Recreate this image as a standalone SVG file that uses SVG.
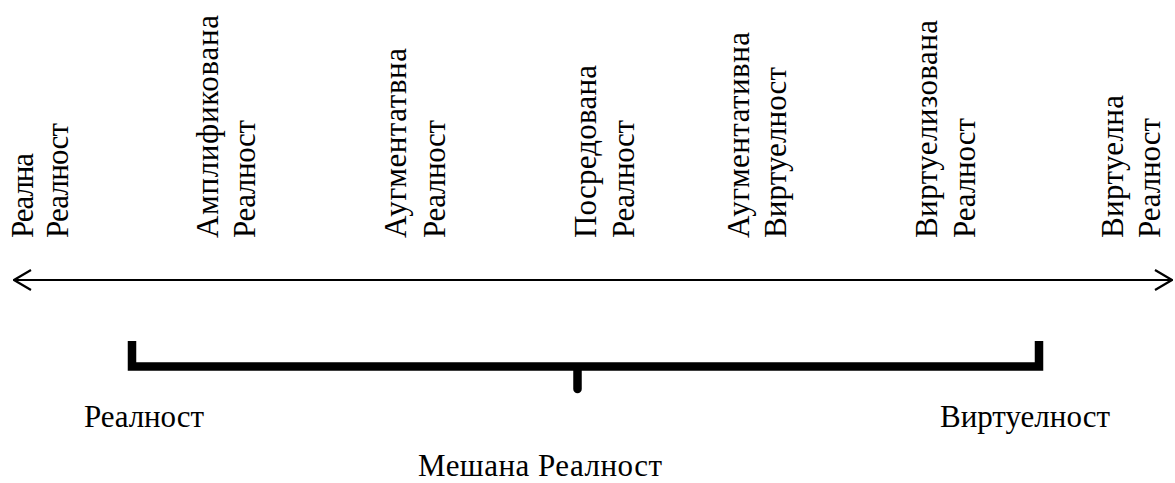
<svg xmlns="http://www.w3.org/2000/svg" width="1175" height="483" viewBox="0 0 1175 483">
<style>
.v{font-size:31px}
.h{font-size:31px}
.ax{stroke:#000;stroke-width:2;fill:none}
.br{stroke:#000;stroke-width:8.5;fill:none}
</style>
<defs>
<marker id="chev" viewBox="0 0 20 24" refX="19" refY="12" markerWidth="20" markerHeight="24" markerUnits="userSpaceOnUse" orient="auto-start-reverse">
<path d="M2,2 L19,12 L2,22" stroke="#000" stroke-width="2.2" fill="none"/>
</marker>
</defs>
<g id="connectors">
<line class="ax" x1="14" y1="280" x2="1172" y2="280" marker-start="url(#chev)" marker-end="url(#chev)"/>
<path class="br" d="M132,341 V366.5 H1039 V341" stroke-linejoin="miter"/>
<line class="br" x1="577.5" y1="368" x2="577.5" y2="389" stroke-linecap="round"/>
</g>
<g font-family="'Liberation Serif', 'DejaVu Serif', serif" fill="#000">
<g id="n1"><text class="v" transform="translate(33,238) rotate(-90)" textLength="85">Реална</text><text class="v" transform="translate(68,238) rotate(-90)" textLength="115">Реалност</text></g>
<g id="n2"><text class="v" transform="translate(218,238) rotate(-90)" textLength="223">Амплификована</text><text class="v" transform="translate(255,238) rotate(-90)" textLength="118">Реалност</text></g>
<g id="n3"><text class="v" transform="translate(406,238) rotate(-90)" textLength="190">Аугментатвна</text><text class="v" transform="translate(445,238) rotate(-90)" textLength="118">Реалност</text></g>
<g id="n4"><text class="v" transform="translate(596,238) rotate(-90)" textLength="173">Посредована</text><text class="v" transform="translate(634,238) rotate(-90)" textLength="118">Реалност</text></g>
<g id="n5"><text class="v" transform="translate(749,238) rotate(-90)" textLength="206">Аугментативна</text><text class="v" transform="translate(786,238) rotate(-90)" textLength="171">Виртуелност</text></g>
<g id="n6"><text class="v" transform="translate(937,238) rotate(-90)" textLength="218">Виртуелизована</text><text class="v" transform="translate(975,238) rotate(-90)" textLength="120">Реалност</text></g>
<g id="n7"><text class="v" transform="translate(1123,238) rotate(-90)" textLength="143">Виртуелна</text><text class="v" transform="translate(1160,238) rotate(-90)" textLength="120">Реалност</text></g>
<g id="l1"><text class="h" x="84" y="427" textLength="120">Реалност</text></g>
<g id="l2"><text class="h" x="940" y="427">Виртуелност</text></g>
<g id="l3"><text class="h" x="418" y="476" textLength="244">Мешана Реалност</text></g>
</g>
</svg>
